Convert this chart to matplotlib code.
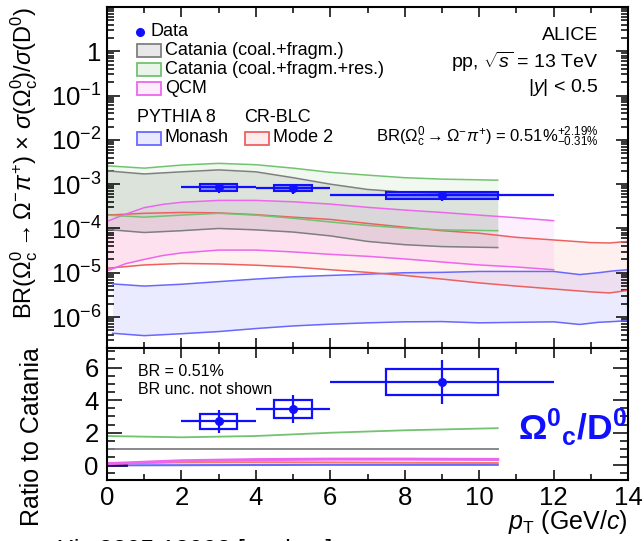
import numpy as np
import matplotlib
matplotlib.use("Agg")
import matplotlib.pyplot as plt
from matplotlib.patches import Rectangle
from matplotlib.ticker import FixedLocator, NullFormatter, MultipleLocator

plt.rcParams['font.family'] = ['Liberation Sans', 'DejaVu Sans']
plt.rcParams['mathtext.fontset'] = 'custom'
plt.rcParams['mathtext.rm'] = 'Liberation Sans'
plt.rcParams['mathtext.it'] = 'Liberation Sans:italic'
plt.rcParams['mathtext.bf'] = 'Liberation Sans:bold'
plt.rcParams['axes.linewidth'] = 1.5

# ---------------- data ----------------
data_pt = [3.0, 5.0, 9.0]
data_xlo = [2.0, 4.0, 6.0]
data_xhi = [4.0, 6.0, 12.0]
data_boxhw = [0.5, 0.5, 1.5]
data_y = [8.6e-4, 8.2e-4, 5.6e-4]
data_stat = [2.2e-4, 2.1e-4, 1.4e-4]
data_syst = [1.5e-4, 1.25e-4, 0.9e-4]

ratio_y = [2.7, 3.45, 5.1]
ratio_stat = [0.7, 0.85, 1.35]
ratio_syst = [0.45, 0.55, 0.8]

cat_pt = [0, 1, 2, 3, 4, 5, 6, 7, 8, 9, 10.5]
cat_hi = [2.0e-3, 1.7e-3, 1.9e-3, 2.1e-3, 1.9e-3, 1.4e-3, 1.0e-3, 7.6e-4, 6.6e-4, 6.2e-4, 6.0e-4]
cat_lo = [9.5e-5, 8.1e-5, 8.9e-5, 1.0e-4, 9.3e-5, 8.3e-5, 6.8e-5, 5.1e-5, 4.3e-5, 3.9e-5, 3.7e-5]

catres_pt = [0, 1, 2, 3, 4, 5, 6, 7, 8, 9, 10.5]
catres_hi = [2.6e-3, 2.3e-3, 2.7e-3, 2.95e-3, 2.75e-3, 2.3e-3, 1.85e-3, 1.6e-3, 1.4e-3, 1.3e-3, 1.23e-3]
catres_lo = [2.0e-4, 1.8e-4, 2.0e-4, 2.2e-4, 2.0e-4, 1.7e-4, 1.4e-4, 1.17e-4, 1.02e-4, 9.3e-5, 8.9e-5]

qcm_pt = [0, 0.5, 1, 1.5, 2, 3, 4, 5, 6, 7, 8, 9, 10, 11, 12]
qcm_hi = [1.45e-4, 2.1e-4, 2.95e-4, 3.5e-4, 3.9e-4, 4.3e-4, 4.3e-4, 4.0e-4, 3.55e-4, 3.0e-4,
          2.6e-4, 2.3e-4, 2.0e-4, 1.75e-4, 1.5e-4]
qcm_lo = [1.1e-5, 1.6e-5, 2.0e-5, 2.45e-5, 2.8e-5, 3.25e-5, 3.25e-5, 2.95e-5, 2.6e-5, 2.35e-5,
          2.05e-5, 1.75e-5, 1.5e-5, 1.35e-5, 1.17e-5]

mode2_pt = [0, 1, 2, 3, 4, 5, 6, 7, 8, 9, 10, 11, 12, 13, 13.5, 14]
mode2_hi = [2.0e-4, 2.2e-4, 2.3e-4, 2.25e-4, 2.05e-4, 1.8e-4, 1.6e-4, 1.3e-4, 1.07e-4, 8.9e-5,
            7.8e-5, 6.3e-5, 5.5e-5, 4.8e-5, 4.7e-5, 5.1e-5]
mode2_lo = [1.26e-5, 1.5e-5, 1.62e-5, 1.58e-5, 1.48e-5, 1.35e-5, 1.17e-5, 1.02e-5, 8.7e-6, 7.2e-6,
            5.9e-6, 5.0e-6, 4.3e-6, 3.7e-6, 3.5e-6, 4.0e-6]

monash_pt = [0.15, 1, 2, 3, 4, 5, 6, 7, 8, 9, 10, 11, 12, 12.7, 13.2, 13.6, 14]
monash_hi = [5.6e-6, 5.0e-6, 5.5e-6, 6.3e-6, 7.2e-6, 8.1e-6, 8.7e-6, 9.3e-6, 1.0e-5, 1.02e-5,
             1.07e-5, 1.07e-5, 1.07e-5, 9.1e-6, 1.0e-5, 1.1e-5, 1.17e-5]
monash_lo = [4.3e-7, 3.8e-7, 4.2e-7, 4.7e-7, 5.5e-7, 6.3e-7, 6.9e-7, 7.4e-7, 7.8e-7, 7.9e-7,
             7.4e-7, 7.6e-7, 7.8e-7, 6.8e-7, 7.6e-7, 7.9e-7, 8.3e-7]

ratio_pt = [0, 2, 4, 6, 8, 10.5]
ratio_cat = [1.0, 1.0, 1.0, 1.0, 1.0, 1.0]
ratio_catres = [1.8, 1.72, 1.8, 2.0, 2.15, 2.28]
ratio_qcm = [0.1, 0.28, 0.35, 0.38, 0.38, 0.36]
ratio_mode2 = [0.12, 0.18, 0.19, 0.18, 0.16, 0.14]
ratio_monash = [0.0, 0.01, 0.02, 0.03, 0.03, 0.03]

ytick_vals = [1e-6, 1e-5, 1e-4, 1e-3, 1e-2, 1e-1, 1]
ytick_labels = [r'$10^{-6}$', r'$10^{-5}$', r'$10^{-4}$', r'$10^{-3}$', r'$10^{-2}$', r'$10^{-1}$', '1']

# ---------------- styles ----------------
C_GRAY = '#7f7f7f'
C_GREEN = '#72c272'
C_MAG = '#ee66ee'
C_RED = '#ee6060'
C_BLUE = '#6868ff'
C_DATA = '#1010ff'

W, H = 644, 541
fig = plt.figure(figsize=(W / 100, H / 100), dpi=100)
L, R, T, M, B = 107, 628, 7, 348, 480
ax1 = fig.add_axes([L / W, (H - M) / H, (R - L) / W, (M - T) / H])
ax2 = fig.add_axes([L / W, (H - B) / H, (R - L) / W, (B - M) / H])

# ---------------- upper panel ----------------
ax1.set_yscale('log')
ax1.set_xlim(0, 14)
ax1.set_ylim(2e-7, 10)

bands = [
    (monash_pt, monash_lo, monash_hi, C_BLUE, (0.4, 0.4, 1.0, 0.13)),
    (mode2_pt, mode2_lo, mode2_hi, C_RED, (1.0, 0.45, 0.45, 0.10)),
    (qcm_pt, qcm_lo, qcm_hi, C_MAG, (0.93, 0.4, 0.93, 0.10)),
    (cat_pt, cat_lo, cat_hi, C_GRAY, (0.45, 0.45, 0.45, 0.16)),
    (catres_pt, catres_lo, catres_hi, C_GREEN, (0.35, 0.7, 0.35, 0.09)),
]
for x, lo, hi, lc, fc in bands:
    ax1.fill_between(x, lo, hi, color=fc, lw=0)
    ax1.plot(x, lo, color=lc, lw=1.1)
    ax1.plot(x, hi, color=lc, lw=1.1)

for i in range(len(data_pt)):
    ax1.add_patch(Rectangle((data_pt[i] - data_boxhw[i], data_y[i] - data_syst[i]),
                            2 * data_boxhw[i], 2 * data_syst[i],
                            facecolor=(0.25, 0.3, 1.0, 0.55), edgecolor=C_DATA, lw=1.5, zorder=5))
ax1.errorbar(data_pt, data_y,
             xerr=[np.subtract(data_pt, data_xlo), np.subtract(data_xhi, data_pt)],
             yerr=data_stat, fmt='o', color=C_DATA, ms=5.5, lw=1.6, capsize=0, zorder=6)

# ---------------- lower panel ----------------
ax2.set_xlim(0, 14)
ax2.set_ylim(-0.9, 7.2)
ax2.plot(ratio_pt, ratio_monash, color=C_BLUE, lw=1.5)
ax2.plot([0, 0.5], [0.0, 0.0], color='#101060', lw=2)
ax2.plot(ratio_pt, ratio_mode2, color='#f08060', lw=1.5)
ax2.plot(ratio_pt, ratio_qcm, color=C_MAG, lw=2.2)
ax2.plot(ratio_pt, ratio_cat, color=C_GRAY, lw=1.3)
ax2.plot(ratio_pt, ratio_catres, color=C_GREEN, lw=1.3)

for i in range(len(data_pt)):
    ax2.add_patch(Rectangle((data_pt[i] - data_boxhw[i], ratio_y[i] - ratio_syst[i]),
                            2 * data_boxhw[i], 2 * ratio_syst[i],
                            facecolor='none', edgecolor=C_DATA, lw=1.6, zorder=5))
ax2.errorbar(data_pt, ratio_y,
             xerr=[np.subtract(data_pt, data_xlo), np.subtract(data_xhi, data_pt)],
             yerr=ratio_stat, fmt='o', color=C_DATA, ms=5.5, lw=1.6, capsize=0, zorder=6)

# ---------------- ticks ----------------
for ax in (ax1, ax2):
    ax.xaxis.set_major_locator(MultipleLocator(2))
    ax.xaxis.set_minor_locator(MultipleLocator(1))
    ax.tick_params(which='both', direction='in', top=True, right=True, width=1.1)
    ax.tick_params(axis='x', which='major', length=7)
    ax.tick_params(axis='x', which='minor', length=4)
    ax.tick_params(axis='y', which='major', length=9)
    ax.tick_params(axis='y', which='minor', length=5)
    ax.tick_params(labelsize=18.5)

ax1.yaxis.set_major_locator(FixedLocator(ytick_vals))
ax1.set_yticklabels(ytick_labels)
minor = [m * 10.0 ** e for e in range(-7, 1) for m in range(2, 10)]
ax1.yaxis.set_minor_locator(FixedLocator(minor))
ax1.yaxis.set_minor_formatter(NullFormatter())
ax1.tick_params(labelbottom=False)
ax1.tick_params(axis='y', pad=4)

ax2.yaxis.set_major_locator(MultipleLocator(2))
ax2.yaxis.set_minor_locator(MultipleLocator(0.5))
ax2.tick_params(axis='y', which='major', length=11, pad=6)
ax2.tick_params(axis='y', which='minor', length=6)
ax2.tick_params(axis='x', pad=4)

# ---------------- texts ----------------
def ax1pos(px, py):
    return (px - L) / (R - L), (M - py) / (M - T)

fs_leg = 13
# legend
ax1.plot(*ax1pos(140, 32), 'o', color=C_DATA, ms=5.5, transform=ax1.transAxes, clip_on=False)
ax1.text(*ax1pos(150, 32), 'Data', transform=ax1.transAxes, fontsize=fs_leg, va='center')
leg_rows = [(50.5, 'Catania (coal.+fragm.)', C_GRAY, (0.45, 0.45, 0.45, 0.16)),
            (69.5, 'Catania (coal.+fragm.+res.)', C_GREEN, (0.35, 0.7, 0.35, 0.12)),
            (88.5, 'QCM', C_MAG, (0.93, 0.4, 0.93, 0.12))]
for py, lab, ec, fc in leg_rows:
    x0, y0 = ax1pos(137, py + 6.5)
    x1, y1 = ax1pos(161, py - 6.5)
    ax1.add_patch(Rectangle((x0, y0), x1 - x0, y1 - y0, transform=ax1.transAxes,
                            facecolor=fc, edgecolor=ec, lw=1.3))
    ax1.text(*ax1pos(165, py), lab, transform=ax1.transAxes, fontsize=fs_leg, va='center')

ax1.text(*ax1pos(137, 117), 'PYTHIA 8', transform=ax1.transAxes, fontsize=fs_leg, va='center')
ax1.text(*ax1pos(244, 117), 'CR-BLC', transform=ax1.transAxes, fontsize=fs_leg, va='center')
for bx, lab, ec, fc in [(137, 'Monash', C_BLUE, (0.4, 0.4, 1.0, 0.15)),
                        (245, 'Mode 2', C_RED, (1.0, 0.45, 0.45, 0.12))]:
    x0, y0 = ax1pos(bx, 138 + 6.5)
    x1, y1 = ax1pos(bx + 24, 138 - 6.5)
    ax1.add_patch(Rectangle((x0, y0), x1 - x0, y1 - y0, transform=ax1.transAxes,
                            facecolor=fc, edgecolor=ec, lw=1.3))
    ax1.text(*ax1pos(bx + 28, 138), lab, transform=ax1.transAxes, fontsize=fs_leg, va='center')

ax1.text(*ax1pos(598, 137),
         r'BR($\Omega_{\rm c}^{0}\rightarrow\Omega^{-}\pi^{+}$) = 0.51%$^{+2.19\%}_{-0.31\%}$',
         transform=ax1.transAxes, fontsize=12, ha='right', va='center')
ax1.text(*ax1pos(598, 36), 'ALICE', transform=ax1.transAxes, fontsize=14, ha='right', va='center')
ax1.text(*ax1pos(598, 62), r'pp, $\sqrt{s}$ = 13 TeV', transform=ax1.transAxes, fontsize=14,
         ha='right', va='center')
ax1.text(*ax1pos(598, 88), r'|$y$| < 0.5', transform=ax1.transAxes, fontsize=14,
         ha='right', va='center')

# lower panel annotations
ax2.text((138 - L) / (R - L), (B - 372) / (B - M), 'BR = 0.51%', transform=ax2.transAxes,
         fontsize=11.5, va='center')
ax2.text((138 - L) / (R - L), (B - 390) / (B - M), 'BR unc. not shown', transform=ax2.transAxes,
         fontsize=11.5, va='center')
ax2.text((518 - L) / (R - L), (B - 440) / (B - M), r'$\mathbf{\Omega^{0}{}_{c}/D^{0}}$',
         transform=ax2.transAxes, fontsize=25.5, color=C_DATA, va='baseline', clip_on=False)

# axis labels
fig.text(24 / W, 1 - 163 / H,
         r'BR($\Omega_{\rm c}^{0}\rightarrow\Omega^{-}\pi^{+}$) $\times$ $\sigma$($\Omega_{\rm c}^{0}$)/$\sigma$(D$^{0}$)',
         rotation=90, ha='center', va='center', fontsize=17)
fig.text(32 / W, 1 - 437 / H, 'Ratio to Catania', rotation=90, ha='center', va='center', fontsize=18)
fig.text(628 / W, 1 - 522 / H, r'$p_{\rm T}$ (GeV/$c$)', ha='right', va='center', fontsize=18)
fig.text(35 / W, 1 - 539 / H, 'arXiv:2205.13993 [nucl-ex]', ha='left', va='top', fontsize=18)

fig.savefig('out.png', dpi=100)
